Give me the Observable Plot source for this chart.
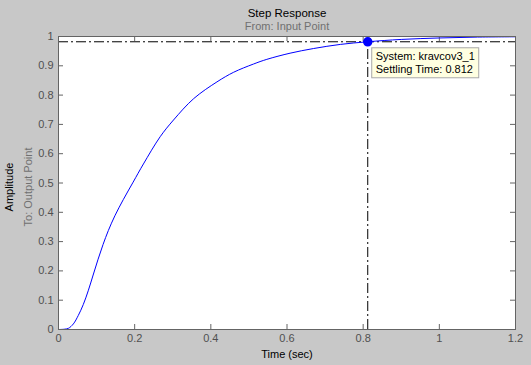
<!DOCTYPE html>
<html><head><meta charset="utf-8">
<script src="https://cdn.jsdelivr.net/npm/d3@7"></script>
<script src="https://cdn.jsdelivr.net/npm/@observablehq/plot@0.6"></script>
<style>html,body{margin:0;padding:0;background:#c8c8c8;} svg{display:block}</style>
</head><body><div id="chart"></div>
<script>
const time      = [0, 0.015, 0.026, 0.039, 0.052, 0.065, 0.078, 0.091, 0.104, 0.117, 0.131, 0.148, 0.17, 0.196, 0.223, 0.267, 0.302, 0.355, 0.416, 0.46, 0.512, 0.547, 0.608, 0.67, 0.74, 0.812, 0.9, 1.0, 1.1, 1.2];
const amplitude = [0, 0.001, 0.004, 0.019, 0.048, 0.085, 0.132, 0.186, 0.24, 0.29, 0.338, 0.388, 0.443, 0.503, 0.565, 0.658, 0.715, 0.788, 0.845, 0.878, 0.906, 0.922, 0.943, 0.959, 0.973, 0.982, 0.99, 0.995, 0.998, 0.999];
const xTicks = [0, 0.2, 0.4, 0.6, 0.8, 1, 1.2];
const yTicks = [0, 0.1, 0.2, 0.3, 0.4, 0.5, 0.6, 0.7, 0.8, 0.9, 1];
const titleText = "Step Response";
const subtitleText = "From: Input Point";
const xLabelText = "Time (sec)";
const yLabelText = "Amplitude";
const yLabel2Text = "To: Output Point";
const systemName = "kravcov3_1";
const settlingTime = 0.812;
const settlingValue = 0.982;

const data = time.map((t, i) => ({t, a: amplitude[i]}));
const FONT = "Liberation Sans, Arial, sans-serif";

const annotation = (index, {x, y}) => {
  const g = d3.create("svg:g");
  const px = x(settlingTime) + 4.5, py = y(settlingValue) + 6.5;
  g.append("rect").attr("x", px).attr("y", py).attr("width", 107).attr("height", 30)
    .attr("fill", "#ffffe1").attr("stroke", "#a8a8a8");
  const t = g.append("text").attr("font-family", FONT).attr("font-size", 11)
    .attr("fill", "black").attr("text-anchor", "start");
  t.append("tspan").attr("x", px + 4).attr("y", py + 12).text("System: " + systemName);
  t.append("tspan").attr("x", px + 4).attr("y", py + 25).text("Settling Time: " + settlingTime);
  return g.node();
};

const fmt = d => String(d);

const chart = Plot.plot({
  width: 531, height: 365,
  marginLeft: 58, marginRight: 16, marginTop: 36, marginBottom: 36,
  style: {background: "#c8c8c8", fontFamily: FONT, fontSize: "11px", overflow: "visible"},
  x: {domain: [0, 1.2]},
  y: {domain: [0, 1]},
  marks: [
    Plot.frame({fill: "white", stroke: "none"}),
    Plot.tickX(xTicks, {x: d => d, insetTop: 288, stroke: "#646464"}),
    Plot.tickX(xTicks, {x: d => d, insetBottom: 288, stroke: "#646464"}),
    Plot.tickY(yTicks, {y: d => d, insetRight: 452, stroke: "#646464"}),
    Plot.tickY(yTicks, {y: d => d, insetLeft: 452, stroke: "#646464"}),
    Plot.ruleY([settlingValue], {stroke: "black", strokeDasharray: "10,3,2,3"}),
    Plot.ruleX([settlingTime], {y1: 0, y2: settlingValue, stroke: "black", strokeDasharray: "10,3,2,3"}),
    Plot.line(data, {x: "t", y: "a", stroke: "#0000ff", strokeWidth: 1, curve: "catmull-rom"}),
    Plot.dot([{t: settlingTime, a: settlingValue}], {x: "t", y: "a", r: 4, fill: "#0000ff", stroke: "#0000ff"}),
    Plot.frame({stroke: "#646464"}),
    Plot.axisX({ticks: xTicks, tickFormat: fmt, tickSize: 0, tickPadding: 5, fill: "#505050", label: null}),
    Plot.axisY({ticks: yTicks, tickFormat: fmt, tickSize: 0, tickPadding: 5, fill: "#505050", label: null}),
    Plot.text([titleText], {frameAnchor: "top", dy: -28, fill: "black", fontSize: 11.5}),
    Plot.text([subtitleText], {frameAnchor: "top", dy: -14, fill: "#707070", fontSize: 11}),
    Plot.text([xLabelText], {frameAnchor: "bottom", dy: 28, fill: "black", fontSize: 11}),
    Plot.text([yLabelText], {frameAnchor: "left", dx: -49, dy: 4, rotate: -90, textAnchor: "middle", fill: "black", fontSize: 11}),
    Plot.text([yLabel2Text], {frameAnchor: "left", dx: -30, dy: 4, rotate: -90, textAnchor: "middle", fill: "#707070", fontSize: 11}),
    annotation
  ]
});
document.getElementById("chart").appendChild(chart);
</script>
</body></html>
